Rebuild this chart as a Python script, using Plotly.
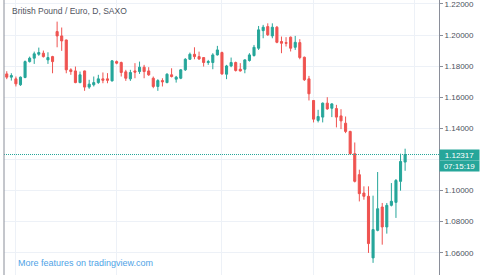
import pandas as pd
import plotly.graph_objects as go

# Daily GBP/EUR candles (SAXO), 28 Nov 2019 - 30 Mar 2020 (weekdays)
dates = pd.bdate_range("2019-11-28", "2020-03-30")

open_ = [1.1750, 1.1729, 1.1718, 1.1680, 1.1727, 1.1829, 1.1851, 1.1876, 1.1883, 1.1840,
         1.1861, 1.2022, 1.1994, 1.1968, 1.1776, 1.1769, 1.1694, 1.1769, 1.1665, 1.1680,
         1.1694, 1.1718, 1.1718, 1.1705, 1.1829, 1.1823, 1.1763, 1.1718, 1.1769, 1.1765,
         1.1793, 1.1769, 1.1722, 1.1669, 1.1707, 1.1694, 1.1744, 1.1716, 1.1722, 1.1776,
         1.1844, 1.1876, 1.1861, 1.1855, 1.1823, 1.1823, 1.1872, 1.1887, 1.1748, 1.1801,
         1.1823, 1.1780, 1.1780, 1.1836, 1.1868, 1.1915, 1.2028, 1.2054, 1.1994, 1.2050,
         1.1958, 1.1951, 1.1986, 1.1921, 1.1951, 1.1857, 1.1718, 1.1579, 1.1451, 1.1472,
         1.1562, 1.1529, 1.1527, 1.1480, 1.1433, 1.1380, 1.1237, 1.1102, 1.0984, 1.0963,
         1.0567, 1.0744, 1.0894, 1.0766, 1.0905, 1.0924, 1.1059, 1.1183]
high = [1.1767, 1.1754, 1.1733, 1.1733, 1.1836, 1.1861, 1.1893, 1.1919, 1.1900, 1.1889,
        1.1866, 1.2086, 1.2048, 1.1970, 1.1786, 1.1797, 1.1765, 1.1771, 1.1712, 1.1733,
        1.1744, 1.1759, 1.1755, 1.1838, 1.1836, 1.1829, 1.1776, 1.1776, 1.1819, 1.1829,
        1.1808, 1.1793, 1.1733, 1.1716, 1.1722, 1.1754, 1.1786, 1.1737, 1.1780, 1.1851,
        1.1887, 1.1921, 1.1893, 1.1857, 1.1840, 1.1883, 1.1930, 1.1893, 1.1808, 1.1855,
        1.1829, 1.1819, 1.1844, 1.1883, 1.1936, 1.2058, 1.2065, 1.2075, 1.2075, 1.2058,
        1.1990, 1.1986, 1.1990, 1.1994, 1.1973, 1.1861, 1.1737, 1.1582, 1.1519, 1.1566,
        1.1600, 1.1562, 1.1551, 1.1523, 1.1476, 1.1384, 1.1309, 1.1134, 1.1027, 1.1027,
        1.0967, 1.1119, 1.0920, 1.0920, 1.1048, 1.1074, 1.1237, 1.1269]
low = [1.1716, 1.1707, 1.1669, 1.1673, 1.1722, 1.1823, 1.1814, 1.1866, 1.1855, 1.1814,
       1.1754, 1.1921, 1.1898, 1.1754, 1.1744, 1.1690, 1.1690, 1.1641, 1.1654, 1.1669,
       1.1686, 1.1690, 1.1690, 1.1701, 1.1812, 1.1733, 1.1705, 1.1705, 1.1722, 1.1750,
       1.1722, 1.1737, 1.1658, 1.1641, 1.1669, 1.1690, 1.1727, 1.1694, 1.1716, 1.1769,
       1.1840, 1.1844, 1.1840, 1.1797, 1.1808, 1.1780, 1.1868, 1.1744, 1.1716, 1.1793,
       1.1765, 1.1765, 1.1754, 1.1829, 1.1861, 1.1904, 1.1979, 1.1994, 1.1979, 1.1947,
       1.1883, 1.1926, 1.1894, 1.1904, 1.1844, 1.1705, 1.1579, 1.1438, 1.1438, 1.1438,
       1.1519, 1.1472, 1.1406, 1.1395, 1.1369, 1.1230, 1.1052, 1.0930, 1.0941, 1.0599,
       1.0535, 1.0738, 1.0652, 1.0723, 1.0898, 1.0824, 1.0999, 1.1127]
close = [1.1729, 1.1739, 1.1686, 1.1729, 1.1829, 1.1851, 1.1879, 1.1887, 1.1861, 1.1855,
         1.1829, 1.1994, 1.1962, 1.1776, 1.1765, 1.1694, 1.1744, 1.1665, 1.1684, 1.1694,
         1.1718, 1.1709, 1.1709, 1.1834, 1.1819, 1.1759, 1.1722, 1.1759, 1.1761, 1.1793,
         1.1765, 1.1744, 1.1669, 1.1707, 1.1699, 1.1748, 1.1733, 1.1729, 1.1776, 1.1844,
         1.1876, 1.1861, 1.1846, 1.1823, 1.1829, 1.1872, 1.1904, 1.1750, 1.1801, 1.1823,
         1.1772, 1.1769, 1.1840, 1.1872, 1.1921, 1.2033, 1.2050, 1.2001, 1.2050, 1.1953,
         1.1947, 1.1947, 1.1915, 1.1953, 1.1855, 1.1712, 1.1622, 1.1459, 1.1476, 1.1562,
         1.1525, 1.1557, 1.1472, 1.1448, 1.1380, 1.1237, 1.1059, 1.0980, 1.0963, 1.0659,
         1.0749, 1.0883, 1.0766, 1.0905, 1.0931, 1.1065, 1.1187, 1.12317]

y_ticks = [1.06, 1.08, 1.10, 1.12, 1.14, 1.16, 1.18, 1.20, 1.22]
# the 1.12000 label sits under the last-price marker, so it is not shown
y_ticktext = ["1.06000", "1.08000", "1.10000", "", "1.14000", "1.16000", "1.18000", "1.20000", "1.22000"]
month_starts = ["2019-12-02", "2020-01-01", "2020-02-03", "2020-03-02", "2020-04-01"]
last_price = close[-1]
countdown = "07:15:19"
title = "British Pound / Euro, D, SAXO"
footer = "More features on tradingview.com"

UP = "#26a69a"
DOWN = "#ef5350"
AXIS = "#8a8e99"
GRID = "#edf1f7"

idx = list(range(len(dates)))
all_days = pd.bdate_range("2019-11-28", "2020-04-30")
grid_x = [int(all_days.get_loc(pd.Timestamp(d))) for d in month_starts]

fig = go.Figure()
fig.add_trace(go.Candlestick(
    x=idx, open=open_, high=high, low=low, close=close,
    text=[d.strftime("%Y-%m-%d") for d in dates],
    increasing=dict(line=dict(color=UP, width=1), fillcolor=UP),
    decreasing=dict(line=dict(color=DOWN, width=1), fillcolor=DOWN),
    whiskerwidth=0,
    showlegend=False,
))

fig.add_hline(y=last_price, line=dict(color=UP, width=1, dash="1px,1px"))

fig.update_layout(
    width=487, height=275,
    margin=dict(l=4, r=48, t=0, b=0),
    paper_bgcolor="white", plot_bgcolor="white",
    boxgap=0.35,
    xaxis=dict(
        range=[-0.6, 94.4], rangeslider=dict(visible=False),
        tickvals=grid_x, showticklabels=False, ticks="",
        showgrid=True, gridcolor=GRID, gridwidth=1,
        zeroline=False, showline=False, fixedrange=True,
    ),
    yaxis=dict(
        side="right", range=[1.0457, 1.2225],
        tickvals=y_ticks, ticktext=y_ticktext,
        ticks="outside", ticklen=3, tickcolor=AXIS,
        ticklabeloverflow="allow",
        tickfont=dict(family="Liberation Sans, Arial", size=8, color="#4c525e"),
        showgrid=True, gridcolor=GRID, gridwidth=1,
        zeroline=False, showline=True, linecolor=AXIS, linewidth=1,
    ),
    font=dict(family="Liberation Sans, Arial"),
)

# left border of the pane
fig.add_shape(type="line", xref="paper", yref="paper", x0=0, x1=0, y0=0, y1=1,
              line=dict(color=AXIS, width=1))

fig.add_annotation(text=title, xref="paper", yref="paper", x=0.013, y=0.985,
                   xanchor="left", yanchor="top", showarrow=False,
                   font=dict(size=8.5, color="#50535e"))
fig.add_annotation(text=footer, xref="paper", yref="paper", x=0.028, y=0.02,
                   xanchor="left", yanchor="bottom", showarrow=False,
                   font=dict(size=9, color="#4fa3e6"))

fig.add_annotation(text=f"{last_price:.5f}", xref="paper", yref="y", x=1.0, y=last_price,
                   xanchor="left", yanchor="middle", showarrow=False,
                   width=39, height=10, bgcolor=UP, borderpad=0,
                   font=dict(size=8, color="white"))
fig.add_annotation(text=countdown, xref="paper", yref="y", x=1.0, y=last_price,
                   xanchor="left", yanchor="middle", yshift=-11, showarrow=False,
                   width=39, height=10, bgcolor=UP, borderpad=0,
                   font=dict(size=8, color="white"))

fig.write_html("out.html")
